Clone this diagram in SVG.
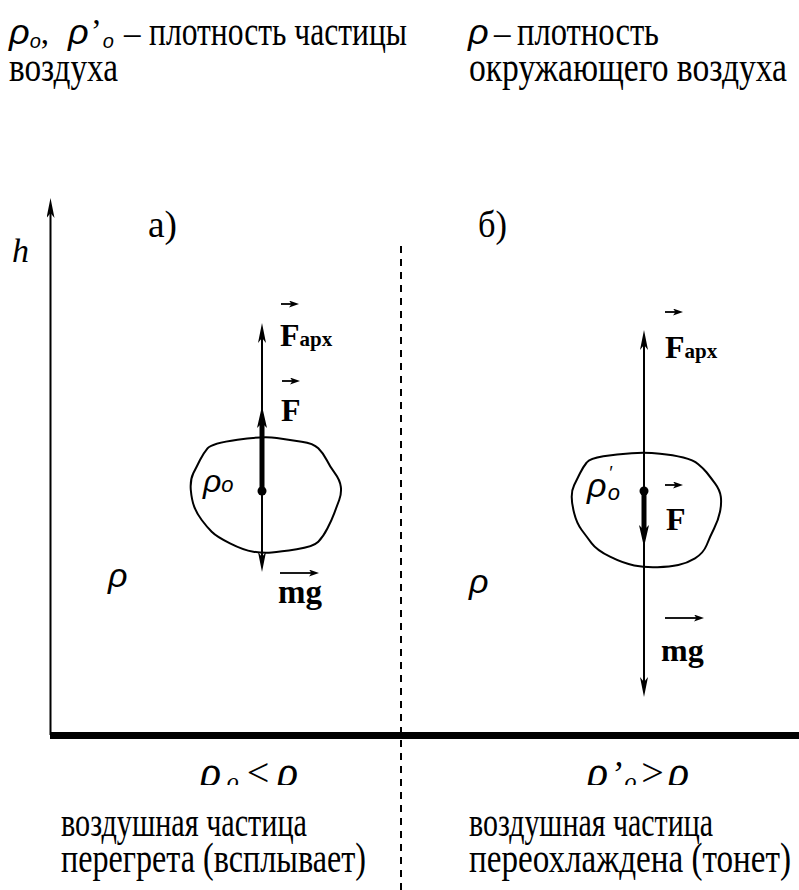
<svg xmlns="http://www.w3.org/2000/svg" width="799" height="890" viewBox="0 0 799 890">
<defs>
<style>
.t{font-family:"Liberation Serif","Times New Roman",serif;font-size:33px;fill:#000}
.gs{font-family:"Liberation Sans",Arial,sans-serif;font-style:italic;fill:#000}
.gi{font-family:"Liberation Serif","Times New Roman",serif;font-style:italic;fill:#000}
.b{font-family:"Liberation Serif","Times New Roman",serif;font-weight:bold;fill:#000}
.ln{stroke:#000;stroke-width:2;fill:none}
.thick{stroke:#000;stroke-width:5;fill:none}
.blob{fill:none;stroke:#000;stroke-width:2;stroke-linejoin:round}
.vec{stroke:#000;stroke-width:1.8;fill:none}
</style>
<marker id="arr" viewBox="0 0 20 8" markerWidth="20" markerHeight="8" refX="6" refY="4" markerUnits="userSpaceOnUse" orient="auto-start-reverse"><path d="M0,0 L20,4 L0,8 L5,4 Z"/></marker>
<marker id="arrT" viewBox="0 0 22 10" markerWidth="22" markerHeight="10" refX="8" refY="5" markerUnits="userSpaceOnUse" orient="auto"><path d="M0,0 L22,5 L0,10 L5,5 Z"/></marker>
<marker id="sarr" viewBox="0 0 10 7" markerWidth="10" markerHeight="7" refX="3" refY="3.5" markerUnits="userSpaceOnUse" orient="auto"><path d="M0,0 L10,3.5 L0,7 L2.5,3.5 Z"/></marker>
<clipPath id="cut"><rect x="0" y="740" width="799" height="45"/></clipPath>
</defs>
<rect width="799" height="890" fill="#fff"/>

<g id="legend">
<text class="gs" x="9" y="44" font-size="36">ρ<tspan font-size="20" dy="4">o</tspan><tspan class="t" font-style="normal" font-size="32" dy="-4">,</tspan></text>
<text class="gs" x="68" y="44" font-size="36">ρ<tspan class="t" font-style="normal" font-size="30" dx="2" dy="-2">’</tspan><tspan font-size="20" dx="1" dy="6">o</tspan></text>
<text class="t" x="124" y="44">–</text>
<text class="t" transform="translate(149,45) scale(1,1.27)" textLength="258" lengthAdjust="spacingAndGlyphs">плотность частицы</text>
<text class="t" transform="translate(9,81) scale(1,1.27)" textLength="109" lengthAdjust="spacingAndGlyphs">воздуха</text>
<text class="gs" x="468" y="44" font-size="36">ρ</text>
<text class="t" x="494" y="44">–</text>
<text class="t" transform="translate(517,45) scale(1,1.27)" textLength="142" lengthAdjust="spacingAndGlyphs">плотность</text>
<text class="t" transform="translate(469,81) scale(1,1.27)" textLength="318" lengthAdjust="spacingAndGlyphs">окружающего воздуха</text>
</g>

<g id="axes">
<rect x="50" y="732" width="749" height="7" fill="#000"/>
<line class="ln" x1="50.5" y1="735" x2="50.5" y2="212" stroke-width="2.5" marker-end="url(#arr)"/>
<text class="gi" x="12" y="262" font-size="34">h</text>
<line x1="401" y1="246" x2="401" y2="890" stroke="#000" stroke-width="2" stroke-dasharray="7 6"/>
<text class="t" transform="translate(148,237) scale(1,1.15)" textLength="29" lengthAdjust="spacingAndGlyphs">а)</text>
<text class="t" transform="translate(478,237) scale(1,1.15)" textLength="29" lengthAdjust="spacingAndGlyphs">б)</text>
</g>

<g id="particle-a">
<path class="blob" d="M207.5,448.3 Q211.7,443.3 237.5,439.7 Q263.3,436 276.7,438 Q290,440 301.7,441.7 Q313.3,443.3 318.3,448.3 Q323.3,453.3 326.7,460 Q330,466.7 335,473.3 Q340,480 340.8,486.7 Q341.7,493.3 339.2,500 Q336.7,506.7 334.2,513.3 Q331.7,520 327.5,528.3 Q323.3,536.7 318.3,541.7 Q313.3,546.7 296.7,549.2 Q280,551.7 271.7,552.5 Q263.3,553.3 253.3,551.7 Q243.3,550 230,543.3 Q216.7,536.7 211.7,531.7 Q206.7,526.7 201.7,520 Q196.7,513.3 194.2,506.7 Q191.7,500 190.8,490 Q190,480 193.3,473.3 Q196.7,466.7 200,460 Q203.3,453.3 207.5,448.3 Z"/>
<text class="gs" x="203" y="492" font-size="32">ρ<tspan font-size="22" dx="0">o</tspan></text>
<circle cx="262" cy="491" r="4.5" fill="#000"/>
<text class="gs" x="108" y="587" font-size="34">ρ</text>
</g>

<g id="particle-b">
<path class="blob" d="M586.7,462.5 Q590,458.3 603.3,456.2 Q616.7,454 631.7,453.2 Q646.7,452.3 660,453.7 Q673.3,455 683.3,457.5 Q693.3,460 698.3,464.2 Q703.3,468.3 706.7,472.5 Q710,476.7 715,483.3 Q720,490 720.8,496.7 Q721.7,503.3 720,511.7 Q718.3,520 714.2,528.3 Q710,536.7 706.7,545 Q703.3,553.3 695,558.3 Q686.7,563.3 678.3,565 Q670,566.7 657.5,567.2 Q645,567.7 634.2,565.5 Q623.3,563.3 610,556.7 Q596.7,550 591.7,543.3 Q586.7,536.7 581.7,530 Q576.7,523.3 574.2,513.3 Q571.7,503.3 571.7,496.7 Q571.7,490 574.2,485 Q576.7,480 580,473.3 Q583.3,466.7 586.7,462.5 Z"/>
<text class="gs" x="587" y="497" font-size="34">ρ<tspan font-size="18" dx="2" dy="-18">′</tspan><tspan font-size="22" dx="-4" dy="21">o</tspan></text>
<circle cx="644" cy="491" r="4.5" fill="#000"/>
<text class="gs" x="469" y="593" font-size="34">ρ</text>
</g>

<g id="connectors">
<line class="ln" x1="262" y1="558" x2="262" y2="337" marker-start="url(#arr)" marker-end="url(#arr)"/>
<line class="thick" x1="262" y1="491" x2="262" y2="420" marker-end="url(#arrT)"/>
<line class="ln" x1="644" y1="683" x2="644" y2="344" marker-start="url(#arr)" marker-end="url(#arr)"/>
<line class="thick" x1="644" y1="491" x2="644" y2="533" marker-end="url(#arrT)"/>
</g>

<g id="force-labels">
<line class="vec" x1="281" y1="304" x2="292" y2="304" marker-end="url(#sarr)"/>
<text class="b" x="280" y="346" font-size="32">F<tspan font-size="21">арх</tspan></text>
<line class="vec" x1="282" y1="381" x2="293" y2="381" marker-end="url(#sarr)"/>
<text class="b" x="281" y="421" font-size="32">F</text>
<line class="vec" x1="280" y1="573" x2="312" y2="573" marker-end="url(#sarr)"/>
<text class="b" x="278" y="603" font-size="33">mg</text>

<line class="vec" x1="665" y1="312" x2="676" y2="312" marker-end="url(#sarr)"/>
<text class="b" x="665" y="358" font-size="32">F<tspan font-size="21">арх</tspan></text>
<line class="vec" x1="665" y1="485" x2="676" y2="485" marker-end="url(#sarr)"/>
<text class="b" x="666" y="530" font-size="32">F</text>
<line class="vec" x1="665" y1="618" x2="697" y2="618" marker-end="url(#sarr)"/>
<text class="b" x="661" y="661" font-size="32">mg</text>
</g>

<g id="captions">
<g clip-path="url(#cut)">
<text class="gi" x="200" y="786" font-size="44" textLength="98" lengthAdjust="spacing">ρ<tspan font-size="24" dy="3">o</tspan><tspan font-size="40" dy="-3">&lt;</tspan>ρ</text>
<text class="gi" x="587" y="786" font-size="44" textLength="102" lengthAdjust="spacing">ρ<tspan font-size="36">’</tspan><tspan font-size="24" dy="3">o</tspan><tspan font-size="40" dy="-3">&gt;</tspan>ρ</text>
</g>
<text class="t" transform="translate(61,836) scale(1,1.27)" textLength="246" lengthAdjust="spacingAndGlyphs">воздушная частица</text>
<text class="t" transform="translate(61,872) scale(1,1.27)" textLength="305" lengthAdjust="spacingAndGlyphs">перегрета (всплывает)</text>
<text class="t" transform="translate(469,836) scale(1,1.27)" textLength="244" lengthAdjust="spacingAndGlyphs">воздушная частица</text>
<text class="t" transform="translate(469,872) scale(1,1.27)" textLength="322" lengthAdjust="spacingAndGlyphs">переохлаждена (тонет)</text>
</g>
</svg>
